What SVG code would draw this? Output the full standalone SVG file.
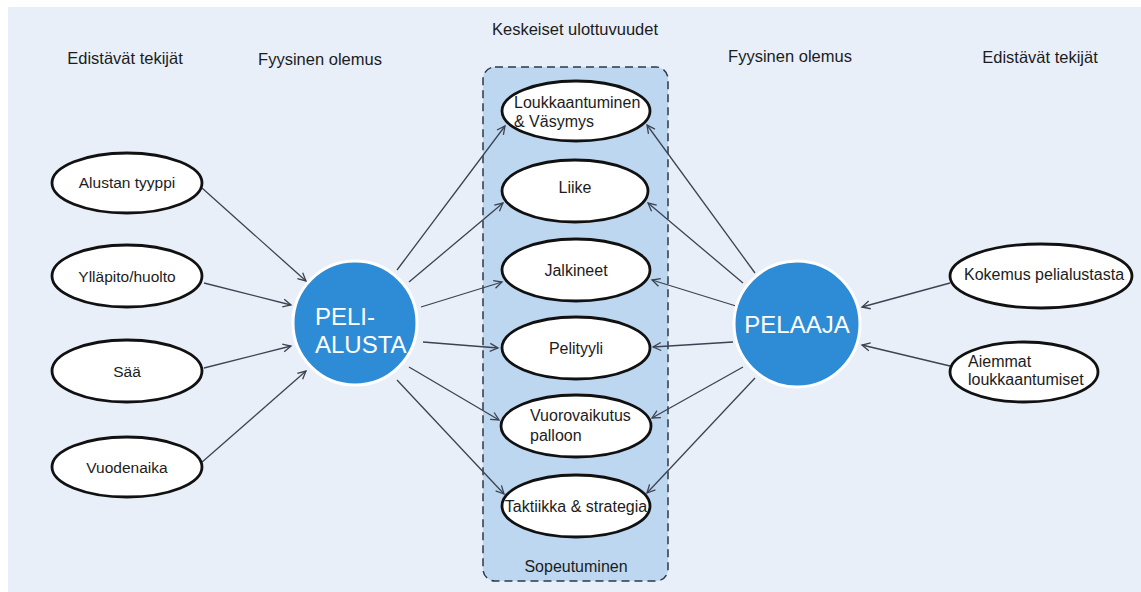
<svg xmlns="http://www.w3.org/2000/svg" width="1141" height="592" viewBox="0 0 1141 592">
<defs>
<style>
.bg{fill:#e8eff9}
.t{font-family:"Liberation Sans",Arial,sans-serif;fill:#1c1c1c}
.h{font-size:16.5px}
.n{font-size:16px}
.s{font-size:15.5px}
.el{fill:#ffffff;stroke:#111111;stroke-width:2.8}
.hub{fill:#2e8cd7;stroke:#ffffff;stroke-width:3}
.ht{font-family:"Liberation Sans",Arial,sans-serif;fill:#ffffff;font-size:24px}
.c{stroke:#3b4352;stroke-width:1.3;fill:none;marker-end:url(#ah)}
</style>
<marker id="ah" markerWidth="12" markerHeight="12" refX="9" refY="5" orient="auto" markerUnits="userSpaceOnUse">
<path d="M1,1 L9,5 L1,9" fill="none" stroke="#3b4352" stroke-width="1.3"/>
</marker>
</defs>
<rect x="0" y="0" width="1141" height="592" fill="#ffffff"/>
<rect class="bg" x="8" y="7" width="1133" height="585"/>

<g id="headers">
<text class="t h" x="125" y="64" text-anchor="middle">Edistävät tekijät</text>
<text class="t h" x="320" y="65" text-anchor="middle">Fyysinen olemus</text>
<text class="t h" x="575" y="35" text-anchor="middle">Keskeiset ulottuvuudet</text>
<text class="t h" x="790" y="62" text-anchor="middle">Fyysinen olemus</text>
<text class="t h" x="1040" y="63" text-anchor="middle">Edistävät tekijät</text>
</g>

<g id="keskeiset-box">
<rect x="483" y="67" width="185" height="514" rx="12" ry="12" fill="#bdd7f0" stroke="#2d3a4a" stroke-width="1.5" stroke-dasharray="8 5"/>
<text class="t n" x="576" y="572" text-anchor="middle">Sopeutuminen</text>
</g>

<g id="connectors">
<line class="c" x1="202" y1="188" x2="306" y2="281"/>
<line class="c" x1="204" y1="283" x2="291" y2="305"/>
<line class="c" x1="204" y1="368" x2="291" y2="346"/>
<line class="c" x1="201" y1="463" x2="306" y2="371"/>

<line class="c" x1="397" y1="270" x2="505" y2="126"/>
<line class="c" x1="409" y1="282" x2="503" y2="203"/>
<line class="c" x1="421" y1="307" x2="502" y2="282"/>
<line class="c" x1="423" y1="342" x2="498" y2="348"/>
<line class="c" x1="409" y1="367" x2="499" y2="420"/>
<line class="c" x1="397" y1="380" x2="504" y2="494"/>

<line class="c" x1="755" y1="273" x2="647" y2="125"/>
<line class="c" x1="743" y1="283" x2="648" y2="203"/>
<line class="c" x1="736" y1="306" x2="652" y2="280"/>
<line class="c" x1="733" y1="342" x2="653" y2="347"/>
<line class="c" x1="743" y1="367" x2="652" y2="418"/>
<line class="c" x1="755" y1="378" x2="647" y2="493"/>

<line class="c" x1="950" y1="283" x2="862" y2="307"/>
<line class="c" x1="950" y1="366" x2="862" y2="345"/>
</g>

<g id="alustan-tyyppi">
<ellipse class="el" cx="127" cy="183" rx="75" ry="30"/>
<text class="t s" x="127" y="188" text-anchor="middle">Alustan tyyppi</text>
</g>
<g id="yllapito">
<ellipse class="el" cx="127" cy="276" rx="75" ry="31"/>
<text class="t s" x="127" y="282" text-anchor="middle">Ylläpito/huolto</text>
</g>
<g id="saa">
<ellipse class="el" cx="127" cy="371" rx="75" ry="31"/>
<text class="t s" x="127" y="377" text-anchor="middle">Sää</text>
</g>
<g id="vuodenaika">
<ellipse class="el" cx="127" cy="467" rx="75" ry="30"/>
<text class="t s" x="127" y="473" text-anchor="middle">Vuodenaika</text>
</g>

<g id="peli-alusta">
<circle class="hub" cx="355" cy="323" r="62"/>
<text class="ht" x="315" y="325">PELI-</text>
<text class="ht" x="315" y="353">ALUSTA</text>
</g>

<g id="pelaaja">
<circle class="hub" cx="797" cy="324" r="63"/>
<text class="ht" x="797" y="333" text-anchor="middle">PELAAJA</text>
</g>

<g id="loukkaantuminen">
<ellipse class="el" cx="576" cy="111" rx="74" ry="30"/>
<text class="t n" x="514" y="108" font-size="16.5">Loukkaantuminen</text>
<text class="t n" x="514" y="127" font-size="16.5">&amp; Väsymys</text>
</g>
<g id="liike">
<ellipse class="el" cx="575" cy="191" rx="73" ry="31"/>
<text class="t n" x="575" y="193" text-anchor="middle">Liike</text>
</g>
<g id="jalkineet">
<ellipse class="el" cx="576" cy="270" rx="74" ry="31"/>
<text class="t n" x="576" y="276" text-anchor="middle">Jalkineet</text>
</g>
<g id="pelityyli">
<ellipse class="el" cx="576" cy="348" rx="74" ry="31"/>
<text class="t n" x="576" y="354" text-anchor="middle">Pelityyli</text>
</g>
<g id="vuorovaikutus">
<ellipse class="el" cx="576" cy="426" rx="75" ry="31"/>
<text class="t n" x="530" y="421">Vuorovaikutus</text>
<text class="t n" x="530" y="441">palloon</text>
</g>
<g id="taktiikka">
<ellipse class="el" cx="576" cy="506" rx="74" ry="31"/>
<text class="t n" x="576" y="512" text-anchor="middle">Taktiikka &amp; strategia</text>
</g>

<g id="kokemus">
<ellipse class="el" cx="1041" cy="276" rx="91" ry="32"/>
<text class="t n" x="1044" y="280" text-anchor="middle" font-size="16.5">Kokemus pelialustasta</text>
</g>
<g id="aiemmat">
<ellipse class="el" cx="1024" cy="372" rx="74" ry="30"/>
<text class="t n" x="968" y="367">Aiemmat</text>
<text class="t n" x="968" y="385">loukkaantumiset</text>
</g>
</svg>
